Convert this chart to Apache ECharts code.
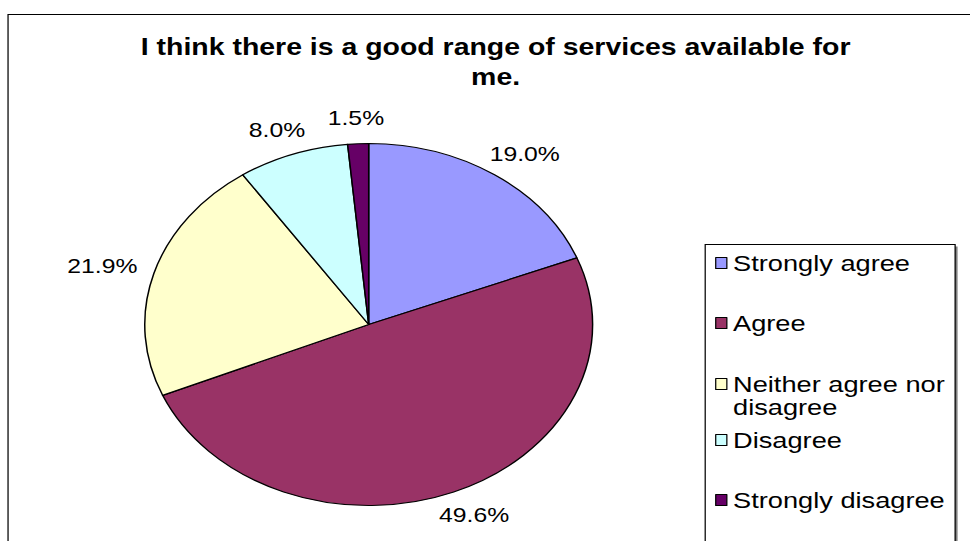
<!DOCTYPE html>
<html>
<head>
<meta charset="utf-8">
<script src="https://cdn.jsdelivr.net/npm/echarts@6/dist/echarts.min.js"></script>
<style>
  html, body { margin: 0; padding: 0; background: #fff; overflow: hidden; }
  #stage { position: relative; width: 970px; height: 541px; overflow: hidden; }
  /* the chart is laid out on a narrower canvas and widened, so the pie is drawn as an ellipse */
  #chart { position: absolute; left: 0; top: 0; width: 784px; height: 541px;
           transform: scaleX(1.2372); transform-origin: 0 0; }
</style>
</head>
<body>
<div id="stage"><div id="chart"></div></div>
<script>
// ---- data ----
const titleText = 'I think there is a good range of services available for\nme.';
const categories = ['Strongly agree', 'Agree', 'Neither agree nor disagree', 'Disagree', 'Strongly disagree'];
const shares = [19.0, 49.6, 21.9, 8.0, 1.5];
const legendLabels = ['Strongly agree', 'Agree', 'Neither agree nor\ndisagree', 'Disagree', 'Strongly disagree'];

// ---- style / layout ----
const sliceColors = ['#9999FF', '#993366', '#FFFFCC', '#CCFFFF', '#660066'];
const FONT = '"Liberation Sans", Arial, Helvetica, sans-serif';
const PIE_CX = 298, PIE_CY = 324.5, PIE_R = 181;
const LABEL_GAP = 15;                 // distance of label anchor beyond the rim
const legendTops = [251.5, 311.5, 349.5, 428.5, 488.5];
const LEGEND_LINE = 23;

const chart = echarts.init(document.getElementById('chart'), null, { renderer: 'svg' });

const pieData = categories.map((name, i) => ({
  name: name,
  value: shares[i],
  itemStyle: { color: sliceColors[i] }
}));

// legend text is centred on its marker; a wrapped entry gets an empty first line
// so the marker sits beside its first printed line
function legendText(i) {
  const t = legendLabels[i];
  return t.indexOf('\n') >= 0 ? '\n' + t : t;
}

// one legend block per entry, stacked in fixed rows like the original legend
const legends = categories.map((name, i) => ({
  data: [name],
  orient: 'vertical',
  left: 578,
  top: legendTops[i],
  padding: 0,
  icon: 'rect',
  itemWidth: 9,
  itemHeight: 11,
  itemGap: 0,
  selectedMode: false,
  itemStyle: { borderColor: '#000', borderWidth: 1 },
  formatter: () => legendText(i),
  textStyle: { fontFamily: FONT, fontSize: 22, color: '#000', lineHeight: LEGEND_LINE }
}));

// place each percentage so that its box just touches a ring outside the pie
function placeLabel(p) {
  const r = p.labelRect;
  const ax = p.align === 'right' ? r.x + r.width : r.x;
  const ay = r.y + r.height / 2;
  const vx = ax - PIE_CX, vy = ay - PIE_CY;
  const len = Math.sqrt(vx * vx + vy * vy) || 1;
  const nx = vx / len, ny = vy / len;
  return {
    x: ax + nx * r.width / 2,
    y: ay + ny * r.height / 2,
    align: 'center',
    verticalAlign: 'middle'
  };
}

chart.setOption({
  animation: false,
  backgroundColor: '#fff',
  title: {
    text: titleText,
    left: 400.6,
    top: 32,
    padding: 0,
    textAlign: 'center',
    textStyle: { fontFamily: FONT, fontSize: 23, fontWeight: 'bold', color: '#000', lineHeight: 30 }
  },
  legend: legends,
  graphic: [
    { type: 'rect', z: -10, silent: true,
      shape: { x: 6.5, y: 14.5, width: 1000, height: 600 },
      style: { fill: 'none', stroke: '#000', lineWidth: 1 } },
    { type: 'rect', z: -9, silent: true,
      shape: { x: 572, y: 246.5, width: 202, height: 400 },
      style: { fill: '#808080', stroke: 'none' } },
    { type: 'rect', z: -8, silent: true,
      shape: { x: 570, y: 244.5, width: 202, height: 400 },
      style: { fill: '#fff', stroke: '#000', lineWidth: 1 } }
  ],
  series: [{
    type: 'pie',
    center: [PIE_CX, PIE_CY],
    radius: PIE_R,
    startAngle: 90,
    clockwise: true,
    avoidLabelOverlap: false,
    emphasis: { disabled: true },
    itemStyle: { borderColor: '#000', borderWidth: 1.2 },
    label: {
      show: true,
      position: 'outside',
      distanceToLabelLine: 0,
      formatter: p => p.value.toFixed(1) + '%',
      fontFamily: FONT, fontSize: 20, color: '#000'
    },
    labelLine: { show: false, length: LABEL_GAP, length2: 0 },
    labelLayout: placeLabel,
    data: pieData
  }]
});
</script>
</body>
</html>
